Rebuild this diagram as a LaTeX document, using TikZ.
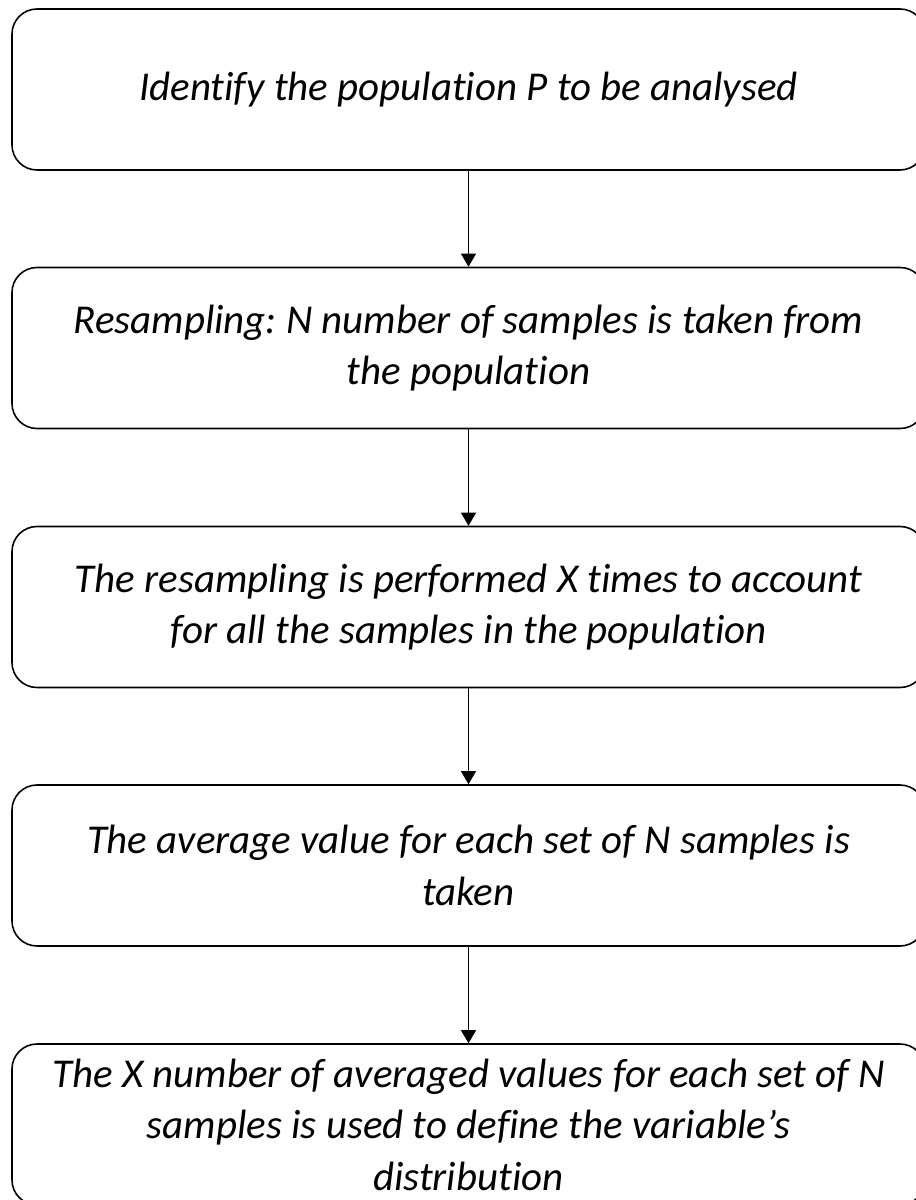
\documentclass[tikz,border=0pt]{standalone}
\usepackage{fontspec}
\setmainfont[Ligatures=NoCommon]{Carlito}
\frenchspacing
\usetikzlibrary{arrows.meta}

\begin{document}
\begin{tikzpicture}
  \tikzset{
    step_box/.style={rectangle, rounded corners=0.5cm, draw, line width=0.9pt, minimum width=18.26cm, minimum height=3.22cm, align=center, font=\fontsize{23.3pt}{29.3pt}\selectfont\itshape},
    flow_arrow/.style={-{Triangle[width=0.3cm, length=0.26cm]}, line width=0.6pt}
  }

  % Marco de la figura
  \useasboundingbox (0,0) rectangle (18.3,-24);

  % Cajas del diagrama de flujo
  \node[step_box] (population) at (9.37,-1.79) {Identify the population P to be analysed};
  \node[step_box] (resampling) at (9.37,-6.96) {Resampling: N number of samples is taken from\\the population};
  \node[step_box] (repetition) at (9.37,-12.14) {The resampling is performed X times to account\\for all the samples in the population};
  \node[step_box] (average) at (9.37,-17.31) {The average value for each set of N samples is\\taken};
  \node[step_box] (distribution) at (9.37,-22.49) {The X number of averaged values for each set of N\\samples is used to define the variable’s\\distribution};

  % Flechas entre pasos
  \draw[flow_arrow] (population) -- (resampling);
  \draw[flow_arrow] (resampling) -- (repetition);
  \draw[flow_arrow] (repetition) -- (average);
  \draw[flow_arrow] (average) -- (distribution);
\end{tikzpicture}
\end{document}
